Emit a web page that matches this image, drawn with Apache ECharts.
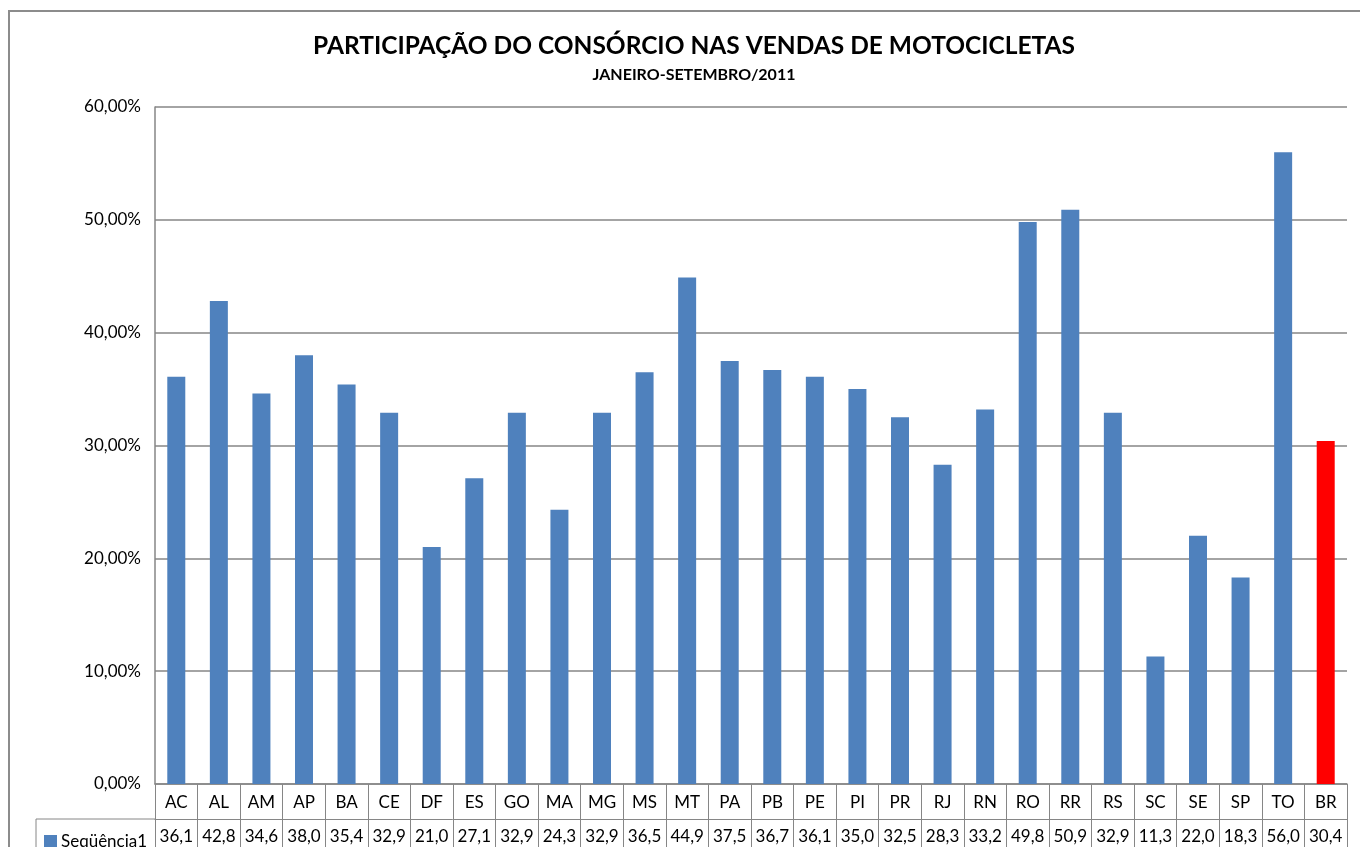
<!DOCTYPE html>
<html>
<head>
<meta charset="utf-8">
<script src="https://cdn.jsdelivr.net/npm/echarts@6/dist/echarts.min.js"></script>
<style>
  html, body { margin: 0; padding: 0; background: #fff; }
  #main { width: 1360px; height: 847px; }
</style>
</head>
<body>
<div id="main"></div>
<script>
;(function (window, document) {

    // dados
    var estados = ['AC', 'AL', 'AM', 'AP', 'BA', 'CE', 'DF', 'ES', 'GO', 'MA', 'MG', 'MS', 'MT', 'PA',
                   'PB', 'PE', 'PI', 'PR', 'RJ', 'RN', 'RO', 'RR', 'RS', 'SC', 'SE', 'SP', 'TO', 'BR'];
    var participacao = [36.1, 42.8, 34.6, 38.0, 35.4, 32.9, 21.0, 27.1, 32.9, 24.3, 32.9, 36.5, 44.9, 37.5,
                        36.7, 36.1, 35.0, 32.5, 28.3, 33.2, 49.8, 50.9, 32.9, 11.3, 22.0, 18.3, 56.0, 30.4];
    var eixoY = [0, 10, 20, 30, 40, 50, 60];
    var destaque = 'BR';

    var fonte = 'Lato, "Open Sans", sans-serif';
    var cinza = '#868686';

    // linha de valores da tabela
    var valoresTabela = participacao.map(function (v) {
        return v.toFixed(1).replace('.', ',');
    });

    var myChart = echarts.init(document.getElementById('main'));
    var option = {
        animation: false,
        textStyle: { fontFamily: fonte },
        title: {
            text: 'PARTICIPAÇÃO DO CONSÓRCIO NAS VENDAS DE MOTOCICLETAS',
            subtext: 'JANEIRO-SETEMBRO/2011',
            left: 689,
            top: 29,
            textAlign: 'center',
            itemGap: 8,
            textStyle: { fontFamily: fonte, fontSize: 24.5, fontWeight: 'bold', color: '#000' },
            subtextStyle: { fontFamily: fonte, fontSize: 16, fontWeight: 'bold', color: '#000' }
        },
        legend: {
            left: 39,
            top: 828,
            itemWidth: 13,
            itemHeight: 13,
            itemGap: 4,
            icon: 'rect',
            data: ['Seqüência1'],
            textStyle: { fontFamily: fonte, fontSize: 17, color: '#000', padding: [0, 0, 0, -1] }
        },
        grid: {
            left: 155,
            right: 13,
            top: 107,
            bottom: 63
        },
        xAxis: [
            {
                type: 'category',
                data: estados,
                position: 'bottom',
                axisLine: { lineStyle: { color: cinza, width: 1.5 } },
                axisTick: { show: true, length: 35, interval: 0, lineStyle: { color: cinza } },
                axisLabel: { interval: 0, margin: 10, fontSize: 17, color: '#000', fontFamily: fonte }
            },
            {
                type: 'category',
                data: valoresTabela,
                position: 'bottom',
                offset: 35,
                axisLine: { lineStyle: { color: cinza } },
                axisTick: { show: true, length: 40, interval: 0, lineStyle: { color: cinza } },
                axisLabel: { interval: 0, margin: 9, fontSize: 17, color: '#000', fontFamily: fonte }
            }
        ],
        yAxis: {
            type: 'value',
            min: eixoY[0],
            max: eixoY[eixoY.length - 1],
            interval: eixoY[1] - eixoY[0],
            axisLine: { show: true, lineStyle: { color: cinza, width: 1.5 } },
            axisTick: { show: false },
            splitLine: { lineStyle: { color: cinza, width: 1.5 } },
            axisLabel: {
                margin: 14,
                fontSize: 17,
                color: '#000',
                fontFamily: fonte,
                formatter: function (v) {
                    return v.toFixed(2).replace('.', ',') + '%';
                }
            }
        },
        // moldura do gráfico e borda da legenda na tabela
        graphic: [
            {
                type: 'rect',
                shape: { x: 9, y: 11, width: 1400, height: 900 },
                style: { fill: 'none', stroke: '#8c8c8c', lineWidth: 2 },
                silent: true
            },
            {
                type: 'polyline',
                shape: { points: [[36, 860], [36, 819], [155, 819]] },
                style: { fill: 'none', stroke: cinza, lineWidth: 1 },
                silent: true
            }
        ],
        series: [
            {
                name: 'Seqüência1',
                type: 'bar',
                barWidth: 18,
                data: participacao,
                itemStyle: {
                    color: function (p) {
                        return p.name === destaque ? '#FF0000' : '#4F81BD';
                    }
                }
            }
        ],
        color: ['#4F81BD']
    };
    myChart.setOption(option);

})(window, document);
</script>
</body>
</html>
